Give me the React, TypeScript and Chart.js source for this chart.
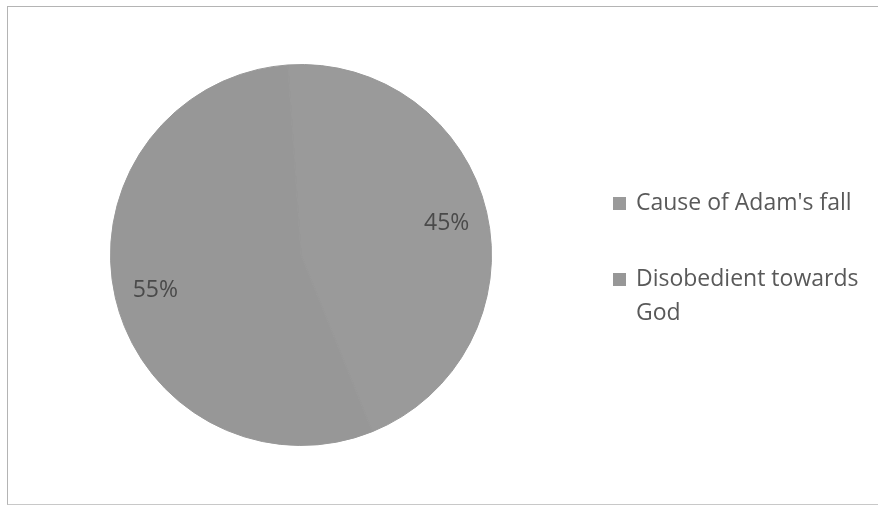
import React, { useEffect, useRef } from "react";
import { Chart, registerables } from "chart.js";

Chart.register(...registerables);

const categories: string[] = ["Cause of Adam's fall", "Disobedient towards God"];
const shares: number[] = [45, 55];
const sliceColors: string[] = ["#9a9a9a", "#979797"];

const FONT = "'Open Sans', 'DejaVu Sans', sans-serif";

// Percent labels inside each slice plus a wrapped legend to the right of the pie.
const pieLabels = {
  id: "pieLabels",
  afterDatasetsDraw(chart: any) {
    const { ctx } = chart;
    const meta = chart.getDatasetMeta(0);
    const values = chart.data.datasets[0].data as number[];
    const total = values.reduce((a, b) => a + b, 0);

    ctx.save();
    ctx.font = `23px ${FONT}`;
    ctx.fillStyle = "#4a4a4a";
    ctx.textAlign = "center";
    ctx.textBaseline = "middle";
    let cy = 0;
    meta.data.forEach((arc: any, i: number) => {
      const p = arc.getProps(["x", "y", "startAngle", "endAngle", "outerRadius"], true);
      cy = p.y;
      const mid = (p.startAngle + p.endAngle) / 2;
      const r = p.outerRadius * 0.785;
      const pct = Math.round((values[i] / total) * 100);
      ctx.fillText(`${pct}%`, p.x + Math.cos(mid) * r, p.y + Math.sin(mid) * r + 2);
    });

    // legend, wrapped and centred vertically on the pie
    const labels = chart.data.labels as string[];
    const colors = chart.data.datasets[0].backgroundColor as string[];
    const markX = 613;
    const textX = 636;
    const maxW = 232;
    const lineH = 34;
    const itemGap = 42;
    ctx.textAlign = "left";
    const wrapped = labels.map((label) => {
      const lines: string[] = [];
      let cur = "";
      label.split(" ").forEach((w) => {
        const test = cur ? cur + " " + w : w;
        if (ctx.measureText(test).width > maxW && cur) {
          lines.push(cur);
          cur = w;
        } else {
          cur = test;
        }
      });
      if (cur) lines.push(cur);
      return lines;
    });
    const lineCount = wrapped.reduce((n, l) => n + l.length, 0);
    const blockH = lineCount * lineH + (wrapped.length - 1) * itemGap;
    let y = cy - blockH / 2 + lineH / 2 + 3;
    wrapped.forEach((lines, i) => {
      ctx.fillStyle = colors[i];
      ctx.fillRect(markX, y - 6, 13, 13);
      ctx.fillStyle = "#595959";
      lines.forEach((ln, k) => {
        ctx.fillText(ln, textX, y + k * lineH);
      });
      y += lines.length * lineH + itemGap;
    });
    ctx.restore();
  },
};

export default function App() {
  const ref = useRef<HTMLCanvasElement | null>(null);

  useEffect(() => {
    if (!ref.current) return;
    const chart = new Chart(ref.current, {
      type: "pie",
      data: {
        labels: categories,
        datasets: [
          {
            data: shares,
            backgroundColor: sliceColors,
            borderColor: "#989898",
            borderWidth: 1,
          },
        ],
      },
      options: {
        animation: false,
        responsive: false,
        rotation: -4,
        layout: { padding: { left: 110, right: 386, top: 64, bottom: 61 } },
        plugins: {
          legend: { display: false },
          tooltip: { enabled: false },
        },
      },
      plugins: [pieLabels],
    });
    return () => chart.destroy();
  }, []);

  return (
    <div style={{ position: "fixed", left: 0, top: 0, width: 878, height: 507, background: "#fff", overflow: "hidden" }}>
      <div
        style={{
          position: "absolute",
          left: 7,
          top: 6,
          width: 900,
          height: 497,
          borderLeft: "1px solid #b4b4b4",
          borderTop: "1px solid #b4b4b4",
          borderBottom: "1px solid #c8c8c8",
        }}
      />
      <canvas ref={ref} width={878} height={507} style={{ position: "absolute", left: 0, top: 0 }} />
    </div>
  );
}
